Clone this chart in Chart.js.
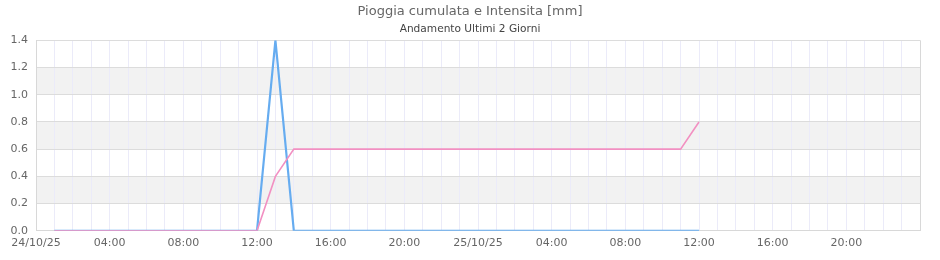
<!DOCTYPE html>
<html>
<head>
<meta charset="utf-8">
<script src="https://cdn.jsdelivr.net/npm/chart.js@4/dist/chart.umd.min.js"></script>
<style>
    html, body { margin: 0; padding: 0; background: #fff; }
    #wrap { width: 940px; height: 260px; position: relative; }
</style>
</head>
<body>
<div id="wrap"><canvas id="chart"></canvas></div>
<script>

// hourly slots, 24/10/25 00:00 -> 26/10/25 00:00
const hours = [
    '24/10/25', '01:00', '02:00', '03:00', '04:00', '05:00', '06:00', '07:00',
    '08:00', '09:00', '10:00', '11:00', '12:00', '13:00', '14:00', '15:00',
    '16:00', '17:00', '18:00', '19:00', '20:00', '21:00', '22:00', '23:00',
    '25/10/25', '01:00', '02:00', '03:00', '04:00', '05:00', '06:00', '07:00',
    '08:00', '09:00', '10:00', '11:00', '12:00', '13:00', '14:00', '15:00',
    '16:00', '17:00', '18:00', '19:00', '20:00', '21:00', '22:00', '23:00',
    '26/10/25'
];

// pioggia cumulata [mm]
const cumulata = [
    null, 0, 0, 0, 0, 0, 0, 0, 0, 0, 0, 0, 0, 0.4, 0.6, 0.6,
    0.6, 0.6, 0.6, 0.6, 0.6, 0.6, 0.6, 0.6, 0.6, 0.6, 0.6, 0.6, 0.6, 0.6, 0.6, 0.6,
    0.6, 0.6, 0.6, 0.6, 0.8, null, null, null, null, null, null, null, null, null, null, null,
    null
];

// intensita [mm]
const intensita = [
    null, 0, 0, 0, 0, 0, 0, 0, 0, 0, 0, 0, 0, 1.4, 0, 0,
    0, 0, 0, 0, 0, 0, 0, 0, 0, 0, 0, 0, 0, 0, 0, 0,
    0, 0, 0, 0, 0, null, null, null, null, null, null, null, null, null, null, null,
    null
];

const yTicks = [ 0, 0.2, 0.4, 0.6, 0.8, 1.0, 1.2, 1.4 ];

// shaded y bands
const bands = [ [ 0.2, 0.4 ], [ 0.6, 0.8 ], [ 1.0, 1.2 ] ];

const font = 'DejaVu Sans';

const bandPlugin = {
    id: 'bands',
    beforeDraw: ( chart ) => {
        let ctx = chart.ctx,
            area = chart.chartArea,
            y = chart.scales.y;
        ctx.save();
        ctx.fillStyle = '#f2f2f2';
        bands.forEach( ( b ) => {
            let top = y.getPixelForValue( b[1] ),
                bot = y.getPixelForValue( b[0] );
            ctx.fillRect( area.left, top, area.right - area.left, bot - top );
        } );
        ctx.restore();
    }
};

new Chart( document.getElementById( 'chart' ).getContext( '2d' ), {
    type: 'line',
    data: {
        labels: hours,
        datasets: [ {
            label: 'Pioggia cumulata',
            data: cumulata,
            borderColor: '#f290c2',
            borderWidth: 1.6,
            pointRadius: 0,
            tension: 0,
            fill: false
        }, {
            label: 'Intensita',
            data: intensita,
            borderColor: '#66acf0',
            borderWidth: 2.2,
            pointRadius: 0,
            tension: 0,
            fill: false
        } ]
    },
    options: {
        responsive: true,
        maintainAspectRatio: false,
        animation: false,
        layout: {
            padding: { top: 0, right: 0, left: 0, bottom: 4 }
        },
        plugins: {
            legend: { display: false },
            tooltip: { enabled: false },
            title: {
                display: true,
                text: 'Pioggia cumulata e Intensita [mm]',
                color: '#666',
                font: { family: font, size: 13, weight: 'normal' },
                padding: { top: 4, bottom: 3 }
            },
            subtitle: {
                display: true,
                text: 'Andamento Ultimi 2 Giorni',
                color: '#444',
                font: { family: font, size: 10.6, weight: 'normal' },
                padding: { top: 0, bottom: 5 }
            }
        },
        scales: {
            x: {
                offset: false,
                border: { color: '#d8d8d8' },
                grid: {
                    color: ( c ) => c.index === hours.length - 1 ? '#d8d8d8' : '#ebebf9',
                    tickLength: 0
                },
                ticks: {
                    autoSkip: false,
                    maxRotation: 0,
                    padding: 6,
                    color: '#666',
                    font: { family: font, size: 11 },
                    callback: ( v, i ) => ( i % 4 === 0 && i < hours.length - 1 ) ? hours[ i ] : ''
                }
            },
            y: {
                min: 0,
                max: 1.4,
                border: { color: '#d8d8d8' },
                grid: {
                    color: '#dcdcdc',
                    tickLength: 0
                },
                afterBuildTicks: ( axis ) => {
                    axis.ticks = yTicks.map( v => ( { value: v } ) );
                },
                afterFit: ( axis ) => {
                    axis.width = 36;
                },
                ticks: {
                    padding: 8,
                    color: '#666',
                    font: { family: font, size: 11 },
                    callback: ( v ) => Number( v ).toFixed( 1 )
                }
            },
            // empty right gutter
            yRight: {
                position: 'right',
                display: true,
                grid: { display: false },
                border: { display: false },
                ticks: { display: false },
                afterFit: ( axis ) => {
                    axis.width = 20;
                }
            }
        }
    },
    plugins: [ bandPlugin ]
} );

</script>
</body>
</html>
